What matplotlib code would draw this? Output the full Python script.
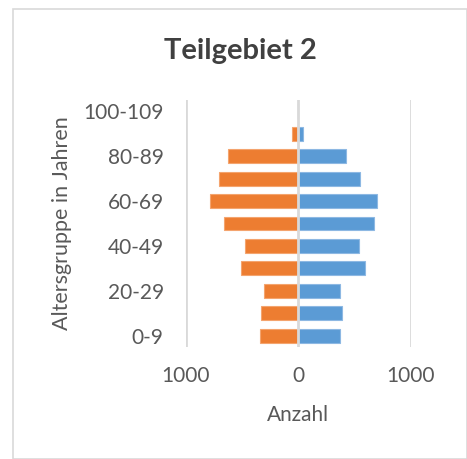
import matplotlib.pyplot as plt
import numpy as np
from matplotlib.patches import Rectangle
from matplotlib.ticker import FuncFormatter

plt.rcParams['font.family'] = ['Lato', 'DejaVu Sans']

altersgruppen = ['0-9', '10-19', '20-29', '30-39', '40-49', '50-59',
                 '60-69', '70-79', '80-89', '90-99', '100-109']
links = [344, 329, 305, 513, 477, 660, 788, 705, 625, 55, 0]   # orange
rechts = [367, 388, 367, 596, 539, 676, 699, 548, 424, 45, 0]  # blau

fig = plt.figure(figsize=(4.67, 4.59), dpi=100)
ax = fig.add_axes([0.398, 0.244, 0.482, 0.538])

y = np.arange(len(altersgruppen))
ax.barh(y, -np.array(links), height=0.62, color='#ED7D31', edgecolor='#F4A46E', linewidth=0.8, zorder=2)
ax.barh(y, rechts, height=0.62, color='#5B9BD5', edgecolor='#8DB8E3', linewidth=0.8, zorder=2)

ax.set_xlim(-1000, 1000)
ax.set_ylim(-0.5, len(altersgruppen) - 0.5)
ax.set_xticks([-1000, 0, 1000])
ax.xaxis.set_major_formatter(FuncFormatter(lambda v, p: f'{abs(int(v))}'))
ax.set_yticks(y[::2])
ax.set_yticklabels(altersgruppen[::2])

for xv in [-1000, 0, 1000]:
    ax.axvline(xv, color='#D9D9D9', linewidth=2, zorder=3 if xv == 0 else 1)

for s in ax.spines.values():
    s.set_visible(False)
ax.tick_params(length=0, labelsize=15, colors='#595959')
ax.tick_params(axis='y', pad=16)
ax.tick_params(axis='x', pad=14)

ax.set_xlabel('Anzahl', fontsize=15, color='#595959', labelpad=13)
ax.set_ylabel('Altersgruppe in Jahren', fontsize=15.5, color='#595959', labelpad=8)

fig.text(0.514, 0.888, 'Teilgebiet 2', ha='center', va='center',
         fontsize=21, fontweight='bold', color='#404040')

fig.patches.append(Rectangle((13 / 467, 0), 1 - 13 / 467, 1 - 9 / 459,
                             transform=fig.transFigure, fill=False,
                             edgecolor='#D9D9D9', linewidth=1.2))

fig.savefig('out.png', dpi=100)
